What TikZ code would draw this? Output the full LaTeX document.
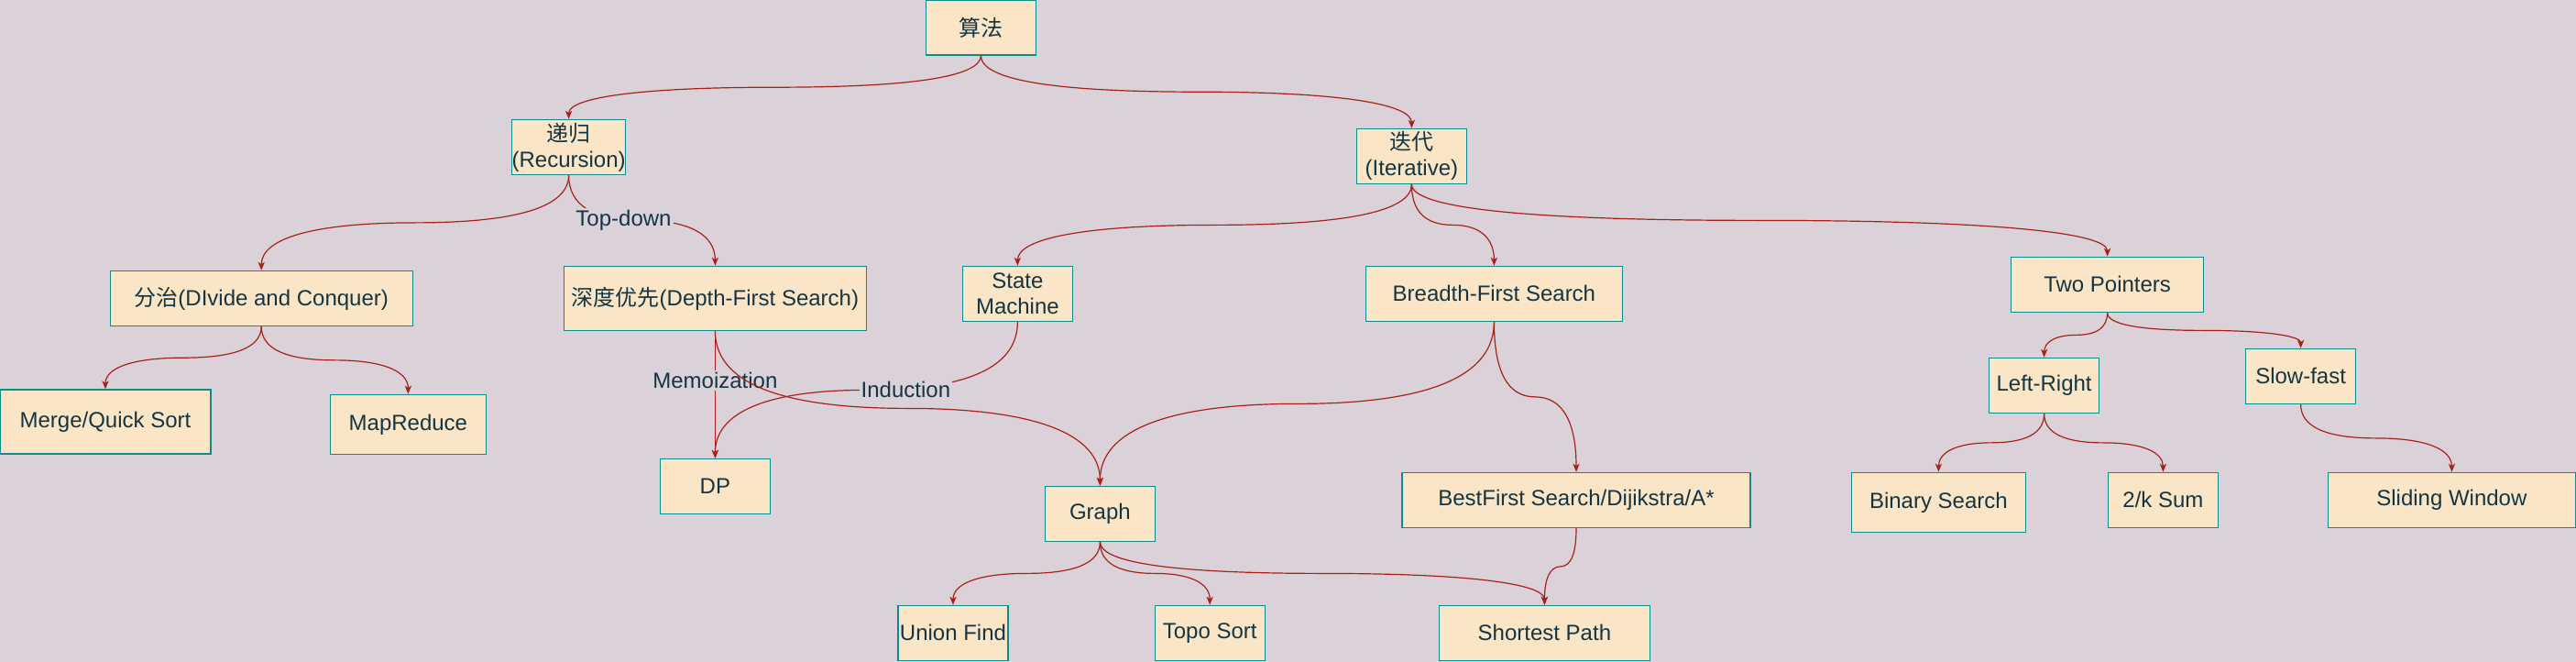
\documentclass[tikz,border=0pt]{standalone}
\usepackage{fontspec}
\setmainfont{Liberation Sans}
\newfontfamily\cjk{Noto Sans CJK SC}
\usetikzlibrary{arrows.meta,calc}

\definecolor{bgcol}{HTML}{DAD2D8}
\definecolor{boxfill}{HTML}{FAE5C7}
\definecolor{boxline}{HTML}{0F8B8D}
\definecolor{inkcol}{HTML}{143642}
\definecolor{edgecol}{HTML}{A8201A}

\tikzset{
    algbox/.style={draw=boxline, fill=boxfill, line width=0.65pt, text=inkcol,
        minimum width=60pt, minimum height=30pt, inner sep=0pt, align=center,
        font=\fontsize{12}{14}\selectfont},
    link/.style={draw=edgecol, line width=0.6pt,
        -{Stealth[length=4.5pt,width=3.6pt,inset=1.2pt]}},
    elabel/.style={fill=bgcol, text=inkcol, inner sep=1pt,
        font=\fontsize{12}{14}\selectfont},
    curvy/.style={to path={
        let \p1=(\tikztostart), \p2=(\tikztotarget),
            \n1={(\x2-\x1)/6}, \n2={(\y2-\y1)/3}
        in .. controls (\x1,\y1+\n2) and (\x1+\n1,\y1+1.5*\n2)
        .. ({(\x1+\x2)/2},{(\y1+\y2)/2})
        .. controls (\x2-\n1,\y1+1.5*\n2) and (\x2,\y2-\n2)
        .. (\tikztotarget) \tikztonodes}},
}

\begin{document}
\begin{tikzpicture}[x=1pt, y=-1pt]
    \fill[bgcol] (0,0) rectangle (1405.5,361);
    \useasboundingbox (0,0) rectangle (1405.5,361);

    \node[algbox] (alg) at (535.2,15) {\cjk 算法};
    \node[algbox] (rec) at (310.3,80.2) {{\cjk 递归}\\(Recursion)};
    \node[algbox] (iter) at (770.2,85.2) {{\cjk 迭代}\\(Iterative)};

    \node[algbox, minimum width=165pt] (dc) at (142.6,162.7) {{\cjk 分治}(DIvide and Conquer)};
    \node[algbox, minimum width=165pt, minimum height=35pt] (dfs) at (390.2,162.7) {{\cjk 深度优先}(Depth-First Search)};
    \node[algbox] (sm) at (555.2,160.2) {State\\Machine};
    \node[algbox, minimum width=140pt] (bfs) at (815.2,160.2) {Breadth-First Search};
    \node[algbox, minimum width=105pt] (tp) at (1149.8,155.2) {Two Pointers};

    \node[algbox, minimum width=115pt, minimum height=35pt] (msort) at (57.5,230) {Merge/Quick Sort};
    \node[algbox, minimum width=85pt, minimum height=32.5pt] (mapr) at (222.7,231.4) {MapReduce};
    \node[algbox] (dp) at (390.2,265.2) {DP};
    \node[algbox] (graph) at (600.2,280.2) {Graph};
    \node[algbox, minimum width=190pt] (bestf) at (860,272.7) {BestFirst Search/Dijikstra/A*};

    \node[algbox] (lr) at (1115.3,210.2) {Left-Right};
    \node[algbox] (sf) at (1255.3,205.2) {Slow-fast};
    \node[algbox, minimum width=95pt, minimum height=32.5pt] (bsearch) at (1057.7,273.9) {Binary Search};
    \node[algbox] (ksum) at (1180.2,272.7) {2/k Sum};
    \node[algbox, minimum width=135pt] (slide) at (1337.7,272.7) {Sliding Window};

    \node[algbox] (uf) at (520,345.2) {Union Find};
    \node[algbox] (topo) at (660.1,345.2) {Topo Sort};
    \node[algbox, minimum width=115pt] (spath) at (842.7,345.2) {Shortest Path};

    \draw[link] (alg.south) to[curvy] (rec.north);
    \draw[link] (alg.south) to[curvy] (iter.north);
    \draw[link] (rec.south) to[curvy] (dc.north);
    \draw[link] (rec.south) to[curvy] node[elabel, pos=0, xshift=-10pt] {Top-down} (dfs.north);
    \draw[link] (dc.south) to[curvy] (msort.north);
    \draw[link] (dc.south) to[curvy] (mapr.north);
    \draw[link] (dfs.south) -- node[elabel, pos=0.39] {Memoization} (dp.north);
    \draw[link] (sm.south) to[curvy] node[elabel, pos=0, xshift=21.5pt] {Induction} (dp.north);
    \draw[link] (dfs.south) to[curvy] (graph.north);
    \draw[link] (iter.south) to[curvy] (sm.north);
    \draw[link] (iter.south) to[curvy] (bfs.north);
    \draw[link] (iter.south) to[curvy] (tp.north);
    \draw[link] (bfs.south) to[curvy] (graph.north);
    \draw[link] (bfs.south) to[curvy] (bestf.north);
    \draw[link] (graph.south) to[curvy] (uf.north);
    \draw[link] (graph.south) to[curvy] (topo.north);
    \draw[link] (graph.south) to[curvy] (spath.north);
    \draw[link] (bestf.south) to[curvy] (spath.north);
    \draw[link] (tp.south) to[curvy] (lr.north);
    \draw[link] (tp.south) to[curvy] (sf.north);
    \draw[link] (lr.south) to[curvy] (bsearch.north);
    \draw[link] (lr.south) to[curvy] (ksum.north);
    \draw[link] (sf.south) to[curvy] (slide.north);
\end{tikzpicture}
\end{document}
